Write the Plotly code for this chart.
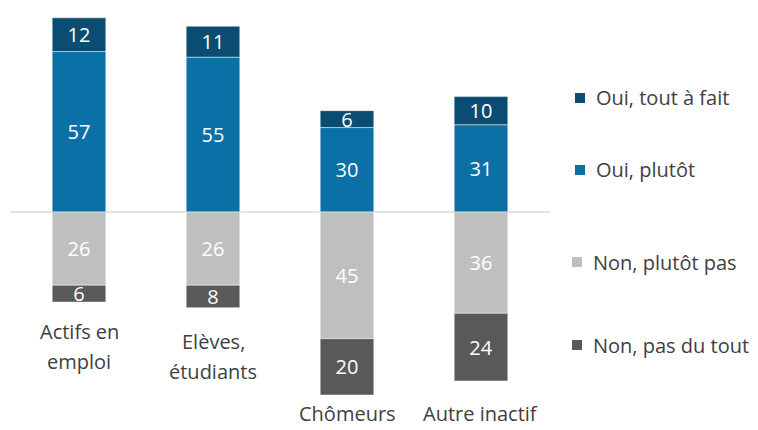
import plotly.graph_objects as go

categories = ["Actifs en<br>emploi", "Elèves,<br>étudiants", "Chômeurs", "Autre inactif"]
oui_tout_a_fait = [12, 11, 6, 10]
oui_plutot = [57, 55, 30, 31]
non_plutot_pas = [26, 26, 45, 36]
non_pas_du_tout = [6, 8, 20, 24]

series_names = ["Oui, tout à fait", "Oui, plutôt", "Non, plutôt pas", "Non, pas du tout"]
colors = ["#0b4d72", "#0a70a5", "#bfbfbf", "#595959"]

FONT = "Open Sans"
OFF = 8  # page body margin offset
W, H = 758 - OFF, 430 - OFF
ML, MR, MT, MB = 2, 208, 0, 8
pw, ph = W - ML - MR, H - MT - MB

def px_x(px):
    return (px - OFF - ML) / pw

def px_y(py):
    return (H - MB - (py - OFF)) / ph

x = list(range(len(categories)))
fig = go.Figure()

def add_bar(vals, name, color, sign):
    fig.add_trace(go.Bar(
        x=x, y=[sign * v for v in vals], name=name,
        marker=dict(color=color, line=dict(color="rgba(255,255,255,0.6)", width=0.8)),
        width=0.4,
        text=[str(v) for v in vals], texttemplate="%{text}",
        textposition="inside", insidetextanchor="middle", textangle=0,
        textfont=dict(family=FONT, size=20, color="#ffffff"),
        hoverinfo="skip", showlegend=False,
    ))

add_bar(oui_plutot, series_names[1], colors[1], 1)
add_bar(oui_tout_a_fait, series_names[0], colors[0], 1)
add_bar(non_plutot_pas, series_names[2], colors[2], -1)
add_bar(non_pas_du_tout, series_names[3], colors[3], -1)

annotations = []
label_offsets = [29, 34, 19, 33]
for i, cat in enumerate(categories):
    bottom = -(non_plutot_pas[i] + non_pas_du_tout[i])
    for j, line in enumerate(cat.split("<br>")):
        annotations.append(dict(
            x=i, y=bottom, xref="x", yref="y", text=line, showarrow=False,
            yshift=-(label_offsets[i] + 30 * j), yanchor="middle", xanchor="center",
            font=dict(family=FONT, size=20, color="#404040"),
        ))

legend_rows = [(series_names[0], colors[0], 98, 580, 594),
               (series_names[1], colors[1], 170, 580, 594),
               (series_names[2], colors[2], 262, 577, 591),
               (series_names[3], colors[3], 345, 577, 591)]
shapes = []
for name, col, py, sx, tx in legend_rows:
    shapes.append(dict(type="rect", xref="paper", yref="paper",
                       x0=px_x(sx - 5), x1=px_x(sx + 5),
                       y0=px_y(py + 5), y1=px_y(py - 5),
                       fillcolor=col, line=dict(width=0)))
    annotations.append(dict(
        x=px_x(tx), y=px_y(py), xref="paper", yref="paper",
        text=name, showarrow=False, xanchor="left", yanchor="middle",
        font=dict(family=FONT, size=20, color="#404040"),
    ))

fig.update_layout(
    width=W, height=H,
    margin=dict(l=ML, r=MR, t=MT, b=MB),
    barmode="relative",
    plot_bgcolor="#ffffff", paper_bgcolor="#ffffff",
    uniformtext=dict(minsize=20, mode="show"),
    xaxis=dict(range=[-0.515, 3.515], showticklabels=False, showgrid=False,
               zeroline=False, showline=False, ticks=""),
    yaxis=dict(range=[-74.6, 72.47], showticklabels=False, showgrid=False,
               zeroline=True, zerolinecolor="#e3e3e3", zerolinewidth=2,
               showline=False, ticks=""),
    annotations=annotations, shapes=shapes,
    showlegend=False,
)

fig.write_html("out.html")
